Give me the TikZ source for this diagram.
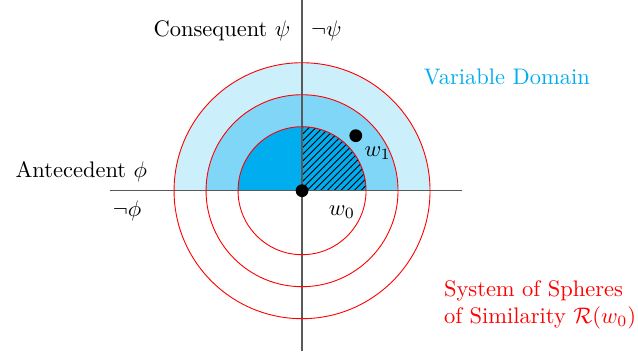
\documentclass[tikz,border=0pt]{standalone}
\usepackage{amsmath,amssymb}
\usepackage{tikz}
\usetikzlibrary{patterns,positioning}

\begin{document}
\begin{tikzpicture}[
    axis/.style={draw=black!65, semithick},
    sphere/.style={draw=red, thin},
    world/.style={circle, fill=black, inner sep=0pt, minimum size=0.2cm},
    lbl/.style={inner sep=1pt}
]
    \useasboundingbox (-4.72,-2.58) rectangle (5.25,2.98);

    % Variable domain (upper half)
    \fill[cyan!20] (2,0) arc (0:180:2) -- cycle;
    \fill[cyan!50] (1.5,0) arc (0:180:1.5) -- cycle;
    \fill[cyan] (0,0) -- (1,0) arc (0:180:1) -- cycle;
    \fill[pattern=north east lines] (0,0) -- (1,0) arc (0:90:1) -- cycle;

    % Axes
    \draw[axis] (0,-2.5) -- (0,3);
    \draw[axis] (-3,0) -- (2.5,0);

    % Spheres of similarity
    \foreach \r in {1,1.5,2}
        \draw[sphere] (0,0) circle (\r);

    % Worlds
    \node[world] (w0) at (0,0) {};
    \node[world] (w1) at (0.84,0.86) {};
    \node[lbl, below right=0.12cm and 0.3cm of w0] (w0lbl) {$w_0$};
    \node[lbl, below right=0.05cm and 0.02cm of w1] (w1lbl) {$w_1$};

    % Axis labels
    \node[lbl, anchor=east] (cons) at (-0.14,2.5) {Consequent $\psi$};
    \node[lbl, anchor=west] (ncons) at (0.1,2.5) {$\neg\psi$};
    \node[lbl, anchor=east] (ante) at (-2.38,0.3) {Antecedent $\phi$};
    \node[lbl, anchor=west] (nante) at (-3,-0.32) {$\neg\phi$};

    % Legends
    \node[lbl, text=cyan] (vardom) at (3.2,1.77) {Variable Domain};
    \node[lbl, text=red, align=left] (spheres) at (3.72,-1.78) {System of Spheres\\of Similarity $\mathcal{R}(w_0)$};
\end{tikzpicture}
\end{document}
